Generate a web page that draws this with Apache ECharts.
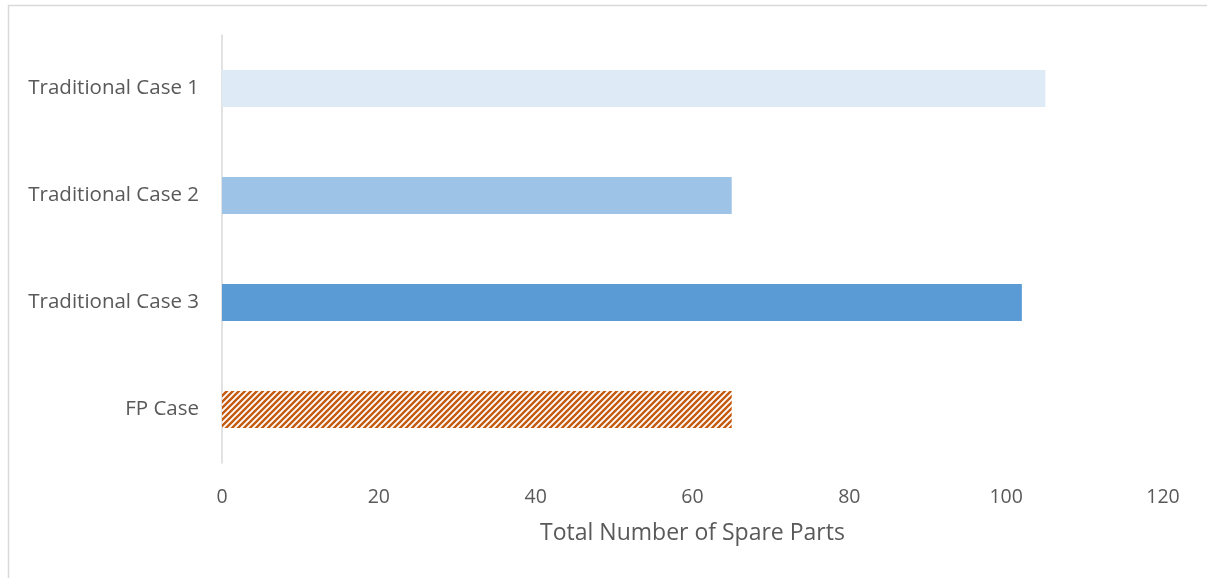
<!DOCTYPE html>
<html>
<head>
<meta charset="utf-8">
<script src="https://cdn.jsdelivr.net/npm/echarts@6/dist/echarts.min.js"></script>
<style>
html, body { margin: 0; padding: 0; background: #fff; }
#main { width: 1207px; height: 578px; }
</style>
</head>
<body>
<div id="main"></div>
<script>
// data
var categories = ['Traditional Case 1', 'Traditional Case 2', 'Traditional Case 3', 'FP Case'];
var values = [105, 65, 102, 65];
var barColors = ['#DEEBF7', '#9DC3E6', '#5B9BD5', 'hatch'];
var xTicks = { min: 0, max: 120, interval: 20 };
var xName = 'Total Number of Spare Parts';

// diagonal hatch for the FP bar
function makeHatch() {
    var c = document.createElement('canvas');
    c.width = 6; c.height = 6;
    var ctx = c.getContext('2d');
    ctx.fillStyle = '#fff';
    ctx.fillRect(0, 0, 6, 6);
    ctx.strokeStyle = '#C55A11';
    ctx.lineWidth = 2.4;
    ctx.beginPath();
    ctx.moveTo(-1, 7); ctx.lineTo(7, -1);
    ctx.moveTo(-4, 4); ctx.lineTo(4, -4);
    ctx.moveTo(2, 10); ctx.lineTo(10, 2);
    ctx.stroke();
    return c;
}
var hatch = makeHatch();

var data = values.map(function (v, i) {
    var col = barColors[i] == 'hatch' ? { image: hatch, repeat: 'repeat' } : barColors[i];
    return { value: v, itemStyle: { color: col } };
});

var chart = echarts.init(document.getElementById('main'));
var txt = '#595959';
chart.setOption({
    animation: false,
    textStyle: { fontFamily: 'Open Sans' },
    graphic: [{
        type: 'rect',
        shape: { x: 8.5, y: 5.5, width: 1210, height: 590 },
        style: { fill: 'none', stroke: '#D9D9D9', lineWidth: 1.5 },
        silent: true
    }],
    grid: { left: 222, right: 44, top: 35, bottom: 115 },
    xAxis: {
        type: 'value',
        min: xTicks.min, max: xTicks.max, interval: xTicks.interval,
        name: xName,
        nameLocation: 'middle',
        nameGap: 59,
        nameTextStyle: { color: txt, fontSize: 23 },
        axisLine: { show: false },
        axisTick: { show: false },
        splitLine: { show: false },
        axisLabel: { color: txt, fontSize: 19.5, margin: 24 }
    },
    yAxis: {
        type: 'category',
        inverse: true,
        data: categories,
        axisLine: { show: true, lineStyle: { color: '#D9D9D9', width: 1.5 } },
        axisTick: { show: false },
        axisLabel: { color: txt, fontSize: 20.5, margin: 23 }
    },
    series: [{
        type: 'bar',
        data: data,
        barWidth: 37
    }]
});
</script>
</body>
</html>
